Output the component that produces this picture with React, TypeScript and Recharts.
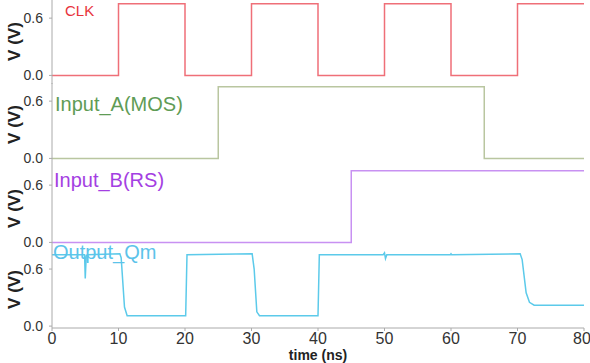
import { Line, LineChart, XAxis, YAxis } from "recharts";

const clkT = [0, 10, 20, 30, 40, 50, 60, 70, 80];
const clkV = [0, 0.75, 0, 0.75, 0, 0.75, 0, 0.75, 0.75];

const inputAT = [0, 25, 65, 80];
const inputAV = [0, 0.75, 0, 0];

const inputBT = [0, 45, 80];
const inputBV = [0, 0.75, 0.75];

const outT = [0, 4.9, 5.0, 5.15, 5.3, 10.2, 10.4, 10.9, 11.3, 20.1, 20.3, 30.1, 30.4, 30.8, 31.2, 40.0, 40.2, 49.8, 50.0, 50.15, 50.35, 59.9, 60.0, 60.1, 70.4, 70.7, 71.3, 71.8, 72.5, 80];
const outV = [0.75, 0.75, 0.5, 0.74, 0.75, 0.76, 0.72, 0.2, 0.11, 0.11, 0.75, 0.76, 0.6, 0.15, 0.11, 0.11, 0.75, 0.75, 0.77, 0.71, 0.75, 0.75, 0.76, 0.75, 0.76, 0.7, 0.35, 0.25, 0.22, 0.22];

const xTicks = [0, 10, 20, 30, 40, 50, 60, 70, 80];
const yTicks = [0, 0.6];

const zip = (t: number[], v: number[]) => t.map((x, i) => ({ t: x, v: v[i] }));

const font = "'Liberation Sans', Arial, sans-serif";

function Panel({
  data,
  color,
  step,
  top,
  plotH,
  domain,
  bottom,
}: {
  data: { t: number; v: number }[];
  color: string;
  step?: boolean;
  top: number;
  plotH: number;
  domain: [number, number];
  bottom?: boolean;
}) {
  const axisH = bottom ? 22 : 0;
  return (
    <div style={{ position: "absolute", left: 0, top }}>
      <LineChart width={590} height={plotH + axisH} margin={{ top: 0, right: 6, bottom: 0, left: 0 }}>
        <XAxis
          type="number"
          dataKey="t"
          domain={[0, 80]}
          ticks={xTicks}
          hide={!bottom}
          height={axisH}
          stroke="#aaa"
          tickSize={3}
          tickMargin={2}
          tick={{ fontSize: 16, fill: "#333", fontFamily: font }}
        />
        <YAxis
          type="number"
          domain={domain}
          ticks={yTicks}
          width={52}
          stroke="#aaa"
          tickSize={3}
          tickMargin={6}
          tickFormatter={(v: number) => v.toFixed(1)}
          tick={{ fontSize: 14, fill: "#333", fontFamily: font }}
        />
        <Line
          data={data}
          dataKey="v"
          type={step ? "stepAfter" : "linear"}
          stroke={color}
          strokeWidth={1.5}
          dot={false}
          isAnimationActive={false}
        />
      </LineChart>
    </div>
  );
}

const lbl = (left: number, top: number, size: number, color: string) => ({
  position: "absolute" as const,
  left,
  top,
  fontSize: size,
  lineHeight: 1,
  color,
  fontFamily: font,
  whiteSpace: "nowrap" as const,
});

const vLabel = (cy: number) => ({
  position: "absolute" as const,
  left: 14 - 30,
  top: cy - 9,
  width: 60,
  textAlign: "center" as const,
  fontSize: 17,
  lineHeight: "17px",
  fontWeight: 700,
  color: "#222",
  fontFamily: font,
  transform: "rotate(-90deg)",
});

export default function App() {
  const panelDomain: [number, number] = [-0.09, 0.79];
  return (
    <div style={{ position: "fixed", left: 0, top: 0, width: 590, height: 363, overflow: "hidden", background: "#fff" }}>
      <Panel data={zip(clkT, clkV)} color="#ef6f78" step top={0} plotH={84} domain={panelDomain} />
      <Panel data={zip(inputAT, inputAV)} color="#b9c6a0" step top={83} plotH={84} domain={panelDomain} />
      <Panel data={zip(inputBT, inputBV)} color="#c891f2" step top={167} plotH={84} domain={panelDomain} />
      <Panel data={zip(outT, outV)} color="#5ccaea" top={251} plotH={77} domain={[-0.02, 0.79]} bottom />

      <div style={lbl(65, 3, 15, "#e8333c")}>CLK</div>
      <div style={lbl(55, 94, 20, "#5f9c56")}>Input_A(MOS)</div>
      <div style={lbl(54, 170, 20, "#a43fe2")}>Input_B(RS)</div>
      <div style={lbl(53, 242, 20, "#5cc3ea")}>Output_Qm</div>

      <div style={vLabel(42)}>V (V)</div>
      <div style={vLabel(125)}>V (V)</div>
      <div style={vLabel(209)}>V (V)</div>
      <div style={vLabel(290)}>V (V)</div>

      <div
        style={{
          position: "absolute",
          left: 52,
          width: 532,
          top: 348,
          textAlign: "center",
          fontSize: 14,
          lineHeight: 1,
          fontWeight: 700,
          color: "#222",
          fontFamily: font,
        }}
      >
        time (ns)
      </div>
    </div>
  );
}
